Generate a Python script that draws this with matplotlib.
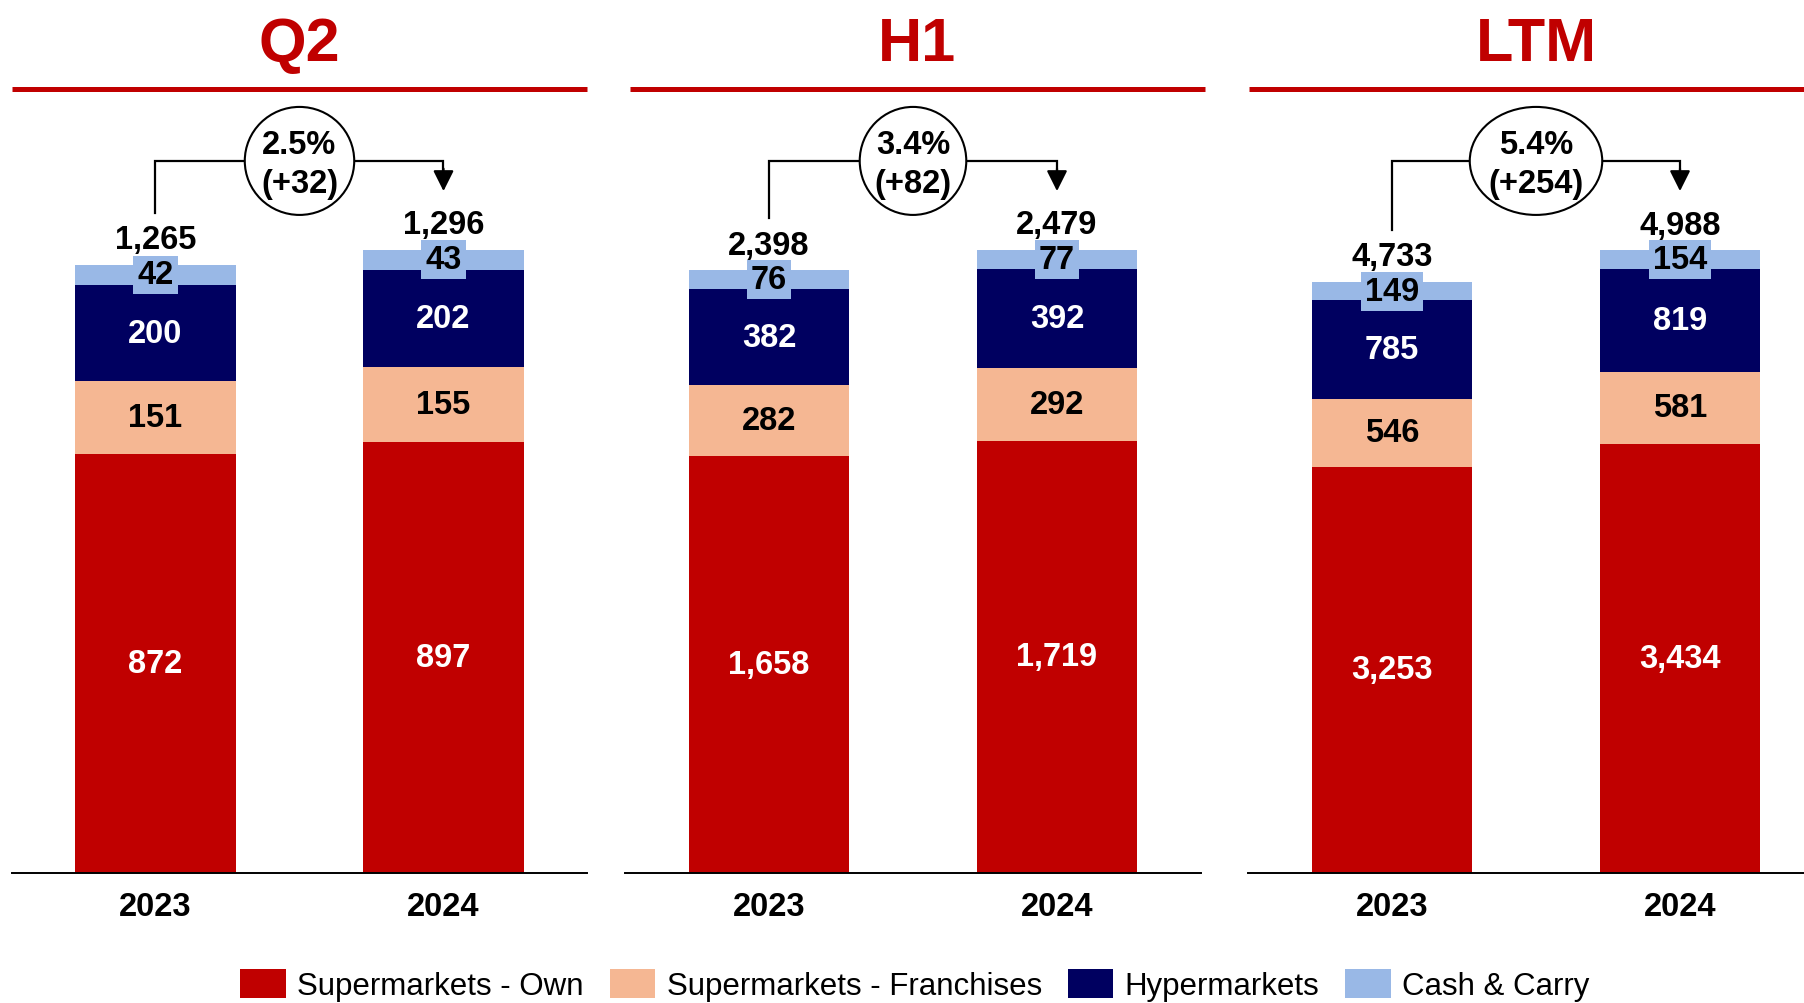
import matplotlib
matplotlib.use('Agg')
import matplotlib.pyplot as plt
from matplotlib.patches import Patch, Ellipse
from matplotlib.lines import Line2D
import matplotlib.transforms as mtransforms

plt.rcParams['font.family'] = ['Liberation Sans', 'DejaVu Sans']

# data
periods = ['Q2', 'H1', 'LTM']
years = ['2023', '2024']
sm_own = [[872, 897], [1658, 1719], [3253, 3434]]
sm_franchises = [[151, 155], [282, 292], [546, 581]]
hypermarkets = [[200, 202], [382, 392], [785, 819]]
cash_carry = [[42, 43], [76, 77], [149, 154]]
totals = [[1265, 1296], [2398, 2479], [4733, 4988]]
growth = ['2.5%\n(+32)', '3.4%\n(+82)', '5.4%\n(+254)']

series_names = ['Supermarkets - Own', 'Supermarkets - Franchises', 'Hypermarkets', 'Cash & Carry']
colors = ['#C00000', '#F5B793', '#000060', '#99B8E6']
label_colors = ['white', 'black', 'white', 'black']

W, H = 1804, 1004
fig = plt.figure(figsize=(W / 100, H / 100), dpi=100)

panel_left = [11.5, 625, 1248]
header_left = [11.5, 630, 1249]
ax_w = 576
base_px = 874   # baseline, px from top
top_px = 100
bar_px = 623    # height of tallest bar in px
ell_w = [0.38, 0.37, 0.46]
fs = 23.5

for i in range(3):
    ax = fig.add_axes([panel_left[i] / W, (H - base_px) / H, ax_w / W, (base_px - top_px) / H])
    ytop = max(totals[i]) * (base_px - top_px) / bar_px
    ax.set_xlim(-0.5, 1.5)
    ax.set_ylim(0, ytop)
    x = [0, 1]
    bottom = [0, 0]
    for k, vals in enumerate([sm_own[i], sm_franchises[i], hypermarkets[i], cash_carry[i]]):
        ax.bar(x, vals, 0.556, bottom=bottom, color=colors[k], linewidth=0)
        for j in range(2):
            yc = bottom[j] + vals[j] / 2
            kw = {}
            if k == 3:
                kw['bbox'] = dict(boxstyle='square,pad=0.12', facecolor=colors[3], edgecolor='none')
            ax.text(x[j], yc, f'{vals[j]:,}', ha='center', va='center', color=label_colors[k],
                    fontsize=fs, fontweight='bold', **kw)
        bottom = [bottom[j] + vals[j] for j in range(2)]

    for j in range(2):
        ax.annotate(f'{totals[i][j]:,}', xy=(x[j], totals[i][j]), xytext=(0, 18),
                    textcoords='offset points', ha='center', va='center',
                    fontsize=fs, fontweight='bold', color='black')

    # growth bracket
    tr = mtransforms.blended_transform_factory(ax.transData, ax.transAxes)
    ybr = 0.920
    y_left = totals[i][0] / ytop + 52 / (base_px - top_px)
    ax.plot([0, 0, 1, 1], [y_left, ybr, ybr, 0.905], color='black', lw=1.6, transform=tr,
            clip_on=False, solid_joinstyle='miter')
    ax.annotate('', xy=(1, 0.881), xytext=(1, 0.91), xycoords=tr, textcoords=tr,
                arrowprops=dict(arrowstyle='-|>,head_length=0.5,head_width=0.25', color='black',
                                lw=1.6, shrinkA=0, shrinkB=0, mutation_scale=25))
    ell = Ellipse((0.5, ybr), ell_w[i], 108 / (base_px - top_px), transform=tr,
                  facecolor='white', edgecolor='black', lw=1.5, clip_on=False, zorder=5)
    ax.add_patch(ell)
    ax.text(0.5, ybr - 0.004, growth[i], transform=tr, ha='center', va='center', fontsize=fs,
            fontweight='bold', linespacing=1.3, zorder=6)

    ax.set_xticks(x)
    ax.set_xticklabels(years, fontsize=fs, fontweight='bold')
    ax.tick_params(axis='x', length=0, pad=13)
    ax.set_yticks([])
    for s in ['top', 'left', 'right']:
        ax.spines[s].set_visible(False)
    ax.spines['bottom'].set_linewidth(1.4)
    ax.patch.set_alpha(0)

    # header
    hx0 = header_left[i] / W
    hx1 = (header_left[i] + 575) / W
    fig.add_artist(Line2D([hx0, hx1], [(H - 90) / H] * 2, color='#C00000', lw=3.6,
                          solid_capstyle='butt'))
    fig.text((hx0 + hx1) / 2, (H - 61) / H, periods[i], ha='center', va='baseline',
             fontsize=44, fontweight='bold', color='#C00000')

handles = [Patch(facecolor=c, edgecolor='none') for c in colors]
fig.legend(handles, series_names, loc='center', bbox_to_anchor=(915 / W, (H - 986) / H),
           ncol=4, frameon=False, handlelength=1.45, handleheight=1.07, handletextpad=0.38,
           columnspacing=0.82, borderpad=0,
           prop={'family': ['Liberation Sans', 'DejaVu Sans'], 'size': 22.5})

fig.savefig('out.png', dpi=100)
